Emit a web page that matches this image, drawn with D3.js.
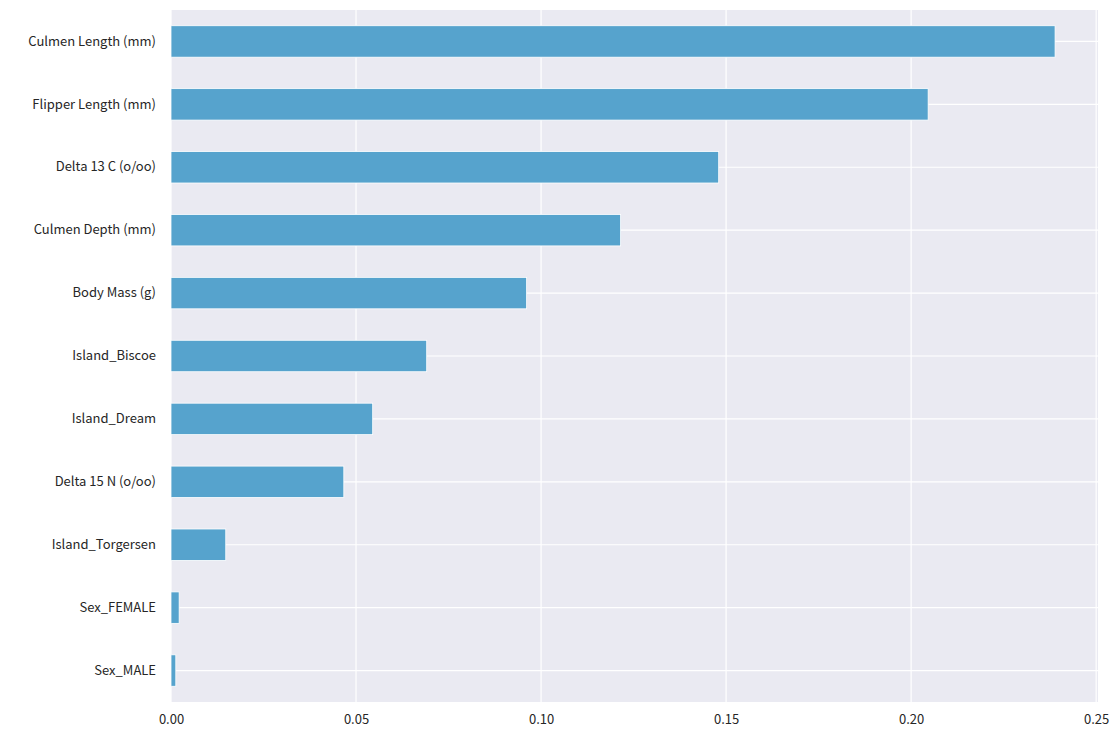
<!DOCTYPE html>
<html>
<head>
<meta charset="utf-8">
<script src="https://cdn.jsdelivr.net/npm/d3@7"></script>
<style>
  body { margin: 0; background: #fff; }
  text { font-family: "Noto Sans CJK KR", "DejaVu Sans", sans-serif; font-size: 13px; fill: #262626; }
</style>
</head>
<body>
<svg id="chart"></svg>
<script>
const width = 1120;
const height = 739;

// feature importances, top to bottom
const features = [
  'Culmen Length (mm)', 'Flipper Length (mm)', 'Delta 13 C (o/oo)', 'Culmen Depth (mm)',
  'Body Mass (g)', 'Island_Biscoe', 'Island_Dream', 'Delta 15 N (o/oo)',
  'Island_Torgersen', 'Sex_FEMALE', 'Sex_MALE'
];
const importances = [0.2389, 0.2046, 0.1480, 0.1215, 0.0961, 0.0691, 0.0545, 0.0467, 0.0148, 0.0022, 0.0013];
const xTicks = [0, 0.05, 0.10, 0.15, 0.20, 0.25];

const margin = { top: 10, bottom: 37, left: 171, right: 22 };

const svg = d3.select('#chart').attr('width', width).attr('height', height);
const plot = svg.append('g').attr('transform', translate(margin.left, margin.top));

const innerW = width - margin.left - margin.right;
const innerH = height - margin.top - margin.bottom;

const scales = {
  x: d3.scaleLinear().domain([0, 0.2505]).range([0, innerW]),
  y: d3.scaleBand().domain(features).range([0, innerH]).paddingInner(0.5).paddingOuter(0.25)
};

plot.append('rect').attr('width', innerW).attr('height', innerH).attr('fill', '#eaeaf2');

// grid lines
plot.selectAll('.vgrid').data(xTicks).enter().append('line')
  .attr('x1', d => scales.x(d)).attr('x2', d => scales.x(d))
  .attr('y1', 0).attr('y2', innerH)
  .attr('stroke', '#fff').attr('stroke-width', 1.2);
plot.selectAll('.hgrid').data(features).enter().append('line')
  .attr('x1', 0).attr('x2', innerW)
  .attr('y1', d => scales.y(d) + scales.y.bandwidth() / 2)
  .attr('y2', d => scales.y(d) + scales.y.bandwidth() / 2)
  .attr('stroke', '#fff').attr('stroke-width', 1.2);

// bars
plot.selectAll('.bar').data(features).enter().append('rect')
  .attr('x', 0)
  .attr('y', d => scales.y(d))
  .attr('width', (d, i) => scales.x(importances[i]))
  .attr('height', scales.y.bandwidth())
  .attr('fill', '#56a3cd')
  .attr('stroke', '#fff').attr('stroke-width', 0.8);

// axes
const xAxis = d3.axisBottom(scales.x).tickValues(xTicks).tickFormat(d3.format('.2f')).tickSize(0).tickPadding(13);
const xg = plot.append('g').attr('transform', translate(0, innerH)).call(xAxis);
xg.select('.domain').remove();
xg.selectAll('text').attr('fill', '#262626').style('font-size', '13px');

const yAxis = d3.axisLeft(scales.y).tickSize(0).tickPadding(15);
const yg = plot.append('g').call(yAxis);
yg.select('.domain').remove();
yg.selectAll('text').attr('fill', '#262626').style('font-size', '13px');

function translate(x, y) {
  return 'translate(' + String(x) + ',' + String(y) + ')';
}
</script>
</body>
</html>
